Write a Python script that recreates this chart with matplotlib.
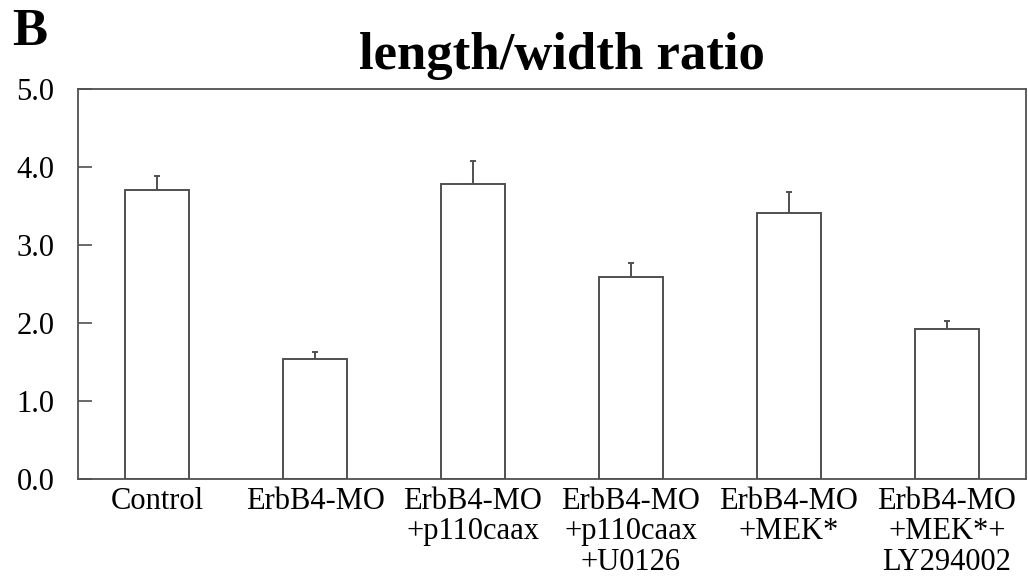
import matplotlib.pyplot as plt
import numpy as np

# --------------------------------------------------
# Data
# --------------------------------------------------
categories = [
    "Control",
    "ErbB4-MO",
    "ErbB4-MO\n+p110caax",
    "ErbB4-MO\n+p110caax\n+U0126",
    "ErbB4-MO\n+MEK*",
    "ErbB4-MO\n+MEK*+\nLY294002",
]
ratio_mean = [3.70, 1.54, 3.78, 2.59, 3.41, 1.92]
ratio_sem = [0.18, 0.09, 0.30, 0.18, 0.27, 0.11]
y_ticks = [0.0, 1.0, 2.0, 3.0, 4.0, 5.0]

plt.rcParams["font.family"] = ["Liberation Serif", "DejaVu Serif"]

fig = plt.figure(figsize=(10.28, 5.79), dpi=100)
ax = fig.add_axes([0.0759, 0.1727, 0.9221, 0.6736])

x = np.arange(len(categories))
edge = "#505050"
ax.bar(x, ratio_mean, width=0.405, color="white", edgecolor=edge,
       linewidth=1.4, zorder=2)
ax.errorbar(x, ratio_mean, yerr=[np.zeros(len(x)), ratio_sem], fmt="none",
            ecolor=edge, elinewidth=1.4, capsize=2, capthick=1.4, zorder=1)

ax.set_xlim(-0.5, len(categories) - 0.5)
ax.set_ylim(0, 5)
ax.set_yticks(y_ticks)
ax.set_yticklabels([f"{v:.1f}" for v in y_ticks], fontsize=22)
ax.set_xticks(x)
ax.set_xticklabels(categories, fontsize=22, linespacing=1.05, va="top")
ax.tick_params(axis="y", direction="in", length=10, width=1.2, color=edge, pad=17)
ax.tick_params(axis="x", length=0, pad=6)
for s in ax.spines.values():
    s.set_color(edge)
    s.set_linewidth(1.3)

fig.text(0.547, 0.904, "length/width ratio", ha="center", va="center",
         fontsize=38, fontweight="bold")
fig.text(0.012, 0.944, "B", ha="left", va="center", fontsize=38,
         fontweight="bold")

fig.savefig("out.png", dpi=100)
